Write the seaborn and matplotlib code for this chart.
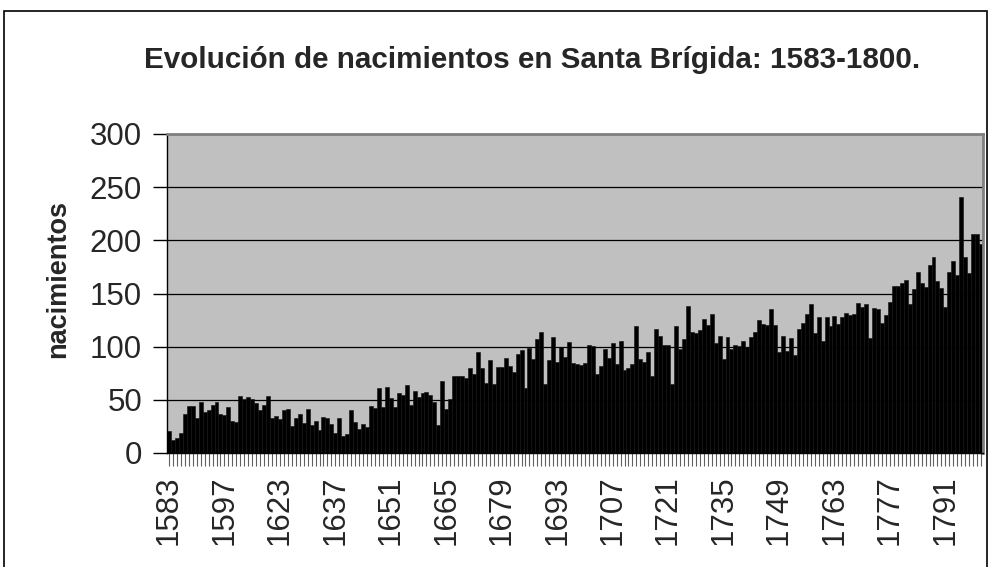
import matplotlib
matplotlib.use('Agg')
import matplotlib.pyplot as plt
import matplotlib.patches as patches
import seaborn as sns
import pandas as pd

# years present in the series (gap between 1610 and 1623)
years = list(range(1583, 1611)) + list(range(1623, 1801))

births = [
    21, 12, 14, 19, 37, 44, 44, 33, 48, 39, 40, 45, 48, 37, 36, 43, 30, 29, 54, 51,
    53, 51, 47, 40, 45, 54, 33, 35, 32, 40, 41, 25, 33, 37, 28,
    41, 26, 30, 22, 34, 33, 27, 19, 33, 16, 18, 40, 29, 23, 27, 24, 44, 42, 61, 43,
    62, 52, 43, 56, 55, 64, 45, 58, 53, 56, 57, 55, 48,
    26, 68, 41, 51, 72, 72, 72, 71, 80, 74, 95, 80, 66, 87, 65, 81, 81, 89, 82, 76,
    93, 97, 61, 99, 88, 107, 114, 65, 87, 109, 86, 100, 90, 104, 85,
    84, 83, 85, 102, 101, 74, 82, 98, 89, 103, 84, 105, 78, 80, 84, 119, 88, 86, 95, 72,
    117, 110, 102, 102, 65, 119, 98, 107, 138, 114, 113, 116, 126,
    120, 131, 103, 110, 88, 109, 98, 102, 101, 105, 100, 109, 114, 125, 121, 120, 135,
    120, 95, 110, 96, 108, 92, 117, 122, 131, 140, 113, 128, 105, 128, 119, 129, 121,
    128, 132, 130, 131, 141, 137, 140, 108, 136, 135, 122, 130, 142, 157, 157, 160, 163,
    140, 154, 170, 160, 156, 177, 184, 162, 155, 137, 170, 181, 167, 241, 184, 169, 206,
    206, 197,
]

tick_years = [1583, 1597, 1623, 1637, 1651, 1665, 1679, 1693, 1707, 1721,
              1735, 1749, 1763, 1777, 1791]
y_ticks = [0, 50, 100, 150, 200, 250, 300]

title = 'Evolución de nacimientos en Santa Brígida: 1583-1800.'
y_label = 'nacimientos'

sns.set_style('white')
plt.rcParams['font.family'] = ['Liberation Sans', 'DejaVu Sans']

df = pd.DataFrame({'year': [str(y) for y in years], 'births': births})

fig = plt.figure(figsize=(9.91, 5.67), dpi=100)
ax = fig.add_axes([167 / 991, 1 - 453 / 567, 816 / 991, 319 / 567])
ax.set_facecolor('#C0C0C0')

sns.barplot(data=df, x='year', y='births', color='black', saturation=1,
            width=1.0, edgecolor='#111111', linewidth=0.4, ax=ax)

ax.set_xlim(-0.5, len(years) - 0.5)
ax.set_ylim(0, 300)
ax.set_yticks(y_ticks)
ax.set_yticklabels([str(v) for v in y_ticks], fontsize=22.5)
ax.set_xticks(range(len(years)))
ax.set_xticklabels([str(y) if y in tick_years else '' for y in years],
                   rotation=90, fontsize=22.5)
ax.tick_params(axis='y', direction='out', length=10, width=1, color='black', pad=8, left=True)
ax.tick_params(axis='x', direction='out', length=9, width=0.8, color='#606060', pad=7, bottom=True)

ax.yaxis.grid(True, color='black', linewidth=0.9)
ax.set_axisbelow(True)
ax.set_xlabel('')
ax.set_ylabel('')

for side in ['left', 'bottom']:
    ax.spines[side].set_color('black')
    ax.spines[side].set_linewidth(1)
for side in ['top', 'right']:
    ax.spines[side].set_color('#808080')
    ax.spines[side].set_linewidth(2)

fig.text(532 / 991, 1 - 60 / 567, title, ha='center', va='center',
         fontsize=21.3, fontweight='bold')
fig.text(58 / 991, 1 - 279 / 567, y_label, ha='center', va='center',
         rotation=90, fontsize=19.5, fontweight='bold')

border = patches.Rectangle((4 / 991, -0.1), 983 / 991, 1.1 - 11 / 567,
                           transform=fig.transFigure, fill=False,
                           edgecolor='black', linewidth=1.2)
fig.patches.append(border)

fig.savefig('out.png', dpi=100)
